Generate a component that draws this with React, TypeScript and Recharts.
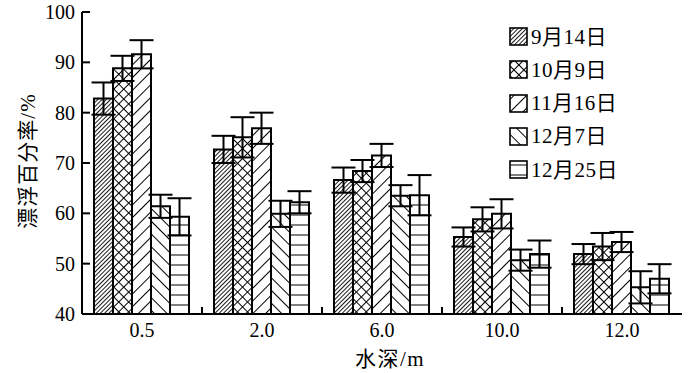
import React from 'react';
import { BarChart, Bar, XAxis, YAxis, ErrorBar, Legend, ReferenceArea, ReferenceLine } from 'recharts';

const categories = ['0.5', '2.0', '6.0', '10.0', '12.0'];
const seriesNames = ['9月14日', '10月9日', '11月16日', '12月7日', '12月25日'];
const sep14 = [82.8, 72.7, 66.6, 55.3, 51.9];
const oct9 = [88.8, 75.1, 68.4, 58.8, 53.4];
const nov16 = [91.6, 76.9, 71.5, 59.9, 54.3];
const dec7 = [61.4, 59.9, 63.5, 50.7, 45.3];
const dec25 = [59.3, 62.2, 63.6, 51.9, 47.0];
const sep14Err = [3.2, 2.7, 2.5, 1.9, 2.0];
const oct9Err = [2.5, 4.0, 2.2, 2.4, 2.7];
const nov16Err = [2.8, 3.1, 2.3, 2.9, 2.0];
const dec7Err = [2.3, 2.6, 2.1, 2.1, 3.2];
const dec25Err = [3.7, 2.2, 4.0, 2.7, 2.9];
const yTicks = [40, 50, 60, 70, 80, 90, 100];

const values = [sep14, oct9, nov16, dec7, dec25];
const errors = [sep14Err, oct9Err, nov16Err, dec7Err, dec25Err];

const data = categories.map((c, i) => {
  const row: any = { cat: c };
  values.forEach((v, k) => {
    row['v' + (k + 1)] = v[i];
    row['e' + (k + 1)] = errors[k][i];
  });
  return row;
});

const FONT = "'Liberation Serif', 'Noto Sans CJK SC', serif";

const Patterns = ({ prefix }: { prefix: string }) => (
  <defs>
    <pattern id={prefix + '1'} width={3} height={3} patternUnits="userSpaceOnUse" patternTransform="rotate(45)">
      <rect width={3} height={3} fill="#fff" />
      <line x1={1.5} y1={0} x2={1.5} y2={3} stroke="#000" strokeWidth={0.9} />
    </pattern>
    <pattern id={prefix + '2'} width={7} height={7} patternUnits="userSpaceOnUse" patternTransform="rotate(45)">
      <rect width={7} height={7} fill="#fff" />
      <line x1={3.5} y1={0} x2={3.5} y2={7} stroke="#000" strokeWidth={1} />
      <line x1={0} y1={3.5} x2={7} y2={3.5} stroke="#000" strokeWidth={1} />
    </pattern>
    <pattern id={prefix + '3'} width={9} height={9} patternUnits="userSpaceOnUse" patternTransform="rotate(45)">
      <rect width={9} height={9} fill="#fff" />
      <line x1={4.5} y1={0} x2={4.5} y2={9} stroke="#000" strokeWidth={1} />
    </pattern>
    <pattern id={prefix + '4'} width={9} height={9} patternUnits="userSpaceOnUse" patternTransform="rotate(-45)">
      <rect width={9} height={9} fill="#fff" />
      <line x1={4.5} y1={0} x2={4.5} y2={9} stroke="#000" strokeWidth={1} />
    </pattern>
    <pattern id={prefix + '5'} width={10} height={10} patternUnits="userSpaceOnUse">
      <rect width={10} height={10} fill="#fff" />
      <line x1={0} y1={5} x2={10} y2={5} stroke="#000" strokeWidth={1} />
    </pattern>
  </defs>
);

const renderLegend = (props: any) => {
  const payload = [...(props.payload || [])].sort((a: any, b: any) =>
    String(a.dataKey).localeCompare(String(b.dataKey)));
  return (
    <div style={{ fontFamily: FONT, fontSize: 21, color: '#000' }}>
      {payload.map((entry: any) => {
        const idx = String(entry.dataKey).replace('v', '');
        return (
          <div key={idx} style={{ display: 'flex', alignItems: 'center', height: 33.25 }}>
            <svg width={19} height={19} style={{ display: 'block' }}>
              <Patterns prefix={'lp' + idx + '_'} />
              <rect x={1} y={1} width={17} height={17} fill={`url(#lp${idx}_${idx})`} stroke="#000" strokeWidth={1.6} />
            </svg>
            <span style={{ marginLeft: 3, lineHeight: '24px', letterSpacing: 0.5 }}>{entry.value}</span>
          </div>
        );
      })}
    </div>
  );
};

const YLabel = (props: any) => {
  const vb = props.viewBox || { x: 0, y: 0, width: 0, height: 0 };
  const cx = vb.x + 28;
  const cy = vb.y + vb.height / 2 - 2;
  return (
    <text
      x={cx}
      y={cy}
      transform={`rotate(-90, ${cx}, ${cy})`}
      textAnchor="middle"
      dominantBaseline="central"
      style={{ fontFamily: FONT, fontSize: 21, fill: '#000', letterSpacing: 1 }}
    >
      漂浮百分率/%
    </text>
  );
};

const XLabel = (props: any) => {
  const vb = props.viewBox || { x: 0, y: 0, width: 0, height: 0 };
  const cx = vb.x + vb.width / 2 + 8;
  return (
    <text x={cx} y={366} textAnchor="middle" style={{ fontFamily: FONT, fontSize: 21, fill: '#000', letterSpacing: 1.5 }}>
      水深/m
    </text>
  );
};

export default function App() {
  return (
    <div style={{ position: 'absolute', left: 0, top: 0, width: 700, height: 373, background: '#fff' }}>
      <BarChart
        width={700}
        height={373}
        data={data}
        margin={{ top: 12, right: 18, left: 0, bottom: 29 }}
        barCategoryGap="10%"
        barGap={0}
      >
        <Patterns prefix="p" />
        <XAxis xAxisId="a" type="number" domain={[0, 5]} height={1}
          tick={false} tickLine={false}
          axisLine={{ stroke: '#000', strokeWidth: 2 }} />
        <XAxis xAxisId="b" dataKey="cat" height={29} tickLine={false} tickMargin={2}
          axisLine={false} interval={0}
          tick={{ fill: '#000', fontSize: 20, fontFamily: FONT }}
          label={<XLabel />} />
        <YAxis domain={[40, 100]} ticks={yTicks} width={82} tickSize={-8} tickMargin={15}
          interval={0}
          axisLine={{ stroke: '#000', strokeWidth: 2 }}
          tickLine={{ stroke: '#000', strokeWidth: 2 }}
          tick={{ fill: '#000', fontSize: 20, fontFamily: FONT }}
          label={<YLabel />} />
        <ReferenceArea xAxisId="a" x1={0} x2={5} y1={40} y2={100} fill="none" stroke="#000" strokeWidth={2} />
        {categories.slice(1).map((c) => (
          <ReferenceLine key={c} xAxisId="b" position="start" ifOverflow="visible"
            segment={[{ x: c, y: 40 }, { x: c, y: 41.4 }]}
            stroke="#000" strokeWidth={2} />
        ))}
        {seriesNames.map((name, k) => (
          <Bar key={name} xAxisId="b" dataKey={'v' + (k + 1)} name={name} fill={`url(#p${k + 1})`}
            stroke="#000" strokeWidth={2} isAnimationActive={false}>
            <ErrorBar dataKey={'e' + (k + 1)} width={12} stroke="#000" strokeWidth={2} />
          </Bar>
        ))}
        <Legend layout="vertical" verticalAlign="middle" align="center" content={renderLegend}
          wrapperStyle={{ position: 'absolute', left: 509, top: 20, width: 'auto', height: 'auto' }} />
      </BarChart>
    </div>
  );
}
